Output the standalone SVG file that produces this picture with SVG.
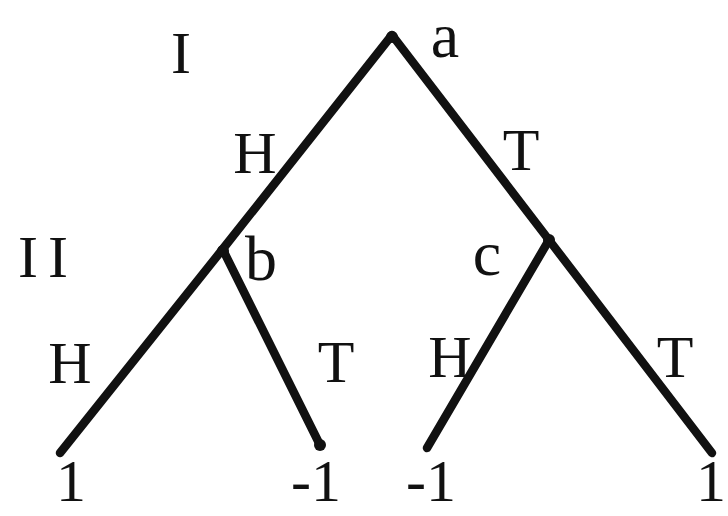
<svg xmlns="http://www.w3.org/2000/svg" width="728" height="516" viewBox="0 0 728 516">
  <style>
    .edge { stroke: #111; stroke-width: 8.5; stroke-linecap: round; stroke-linejoin: round; fill: none; }
    .dot { fill: #111; }
    text { font-family: "Liberation Serif", "Times New Roman", serif; font-size: 60px; fill: #111; text-anchor: middle; }
    .lc { font-size: 64px; }
  </style>
  <rect width="728" height="516" fill="#ffffff"/>
  <g id="connectors">
    <polyline class="edge" points="222,250 392,35 549,240"/>
    <line class="edge" x1="222" y1="250" x2="60" y2="453"/>
    <line class="edge" x1="224" y1="252" x2="320" y2="445"/>
    <line class="edge" x1="549" y1="240" x2="427" y2="448"/>
    <line class="edge" x1="549" y1="240" x2="712" y2="453"/>
    <text x="255" y="173">H</text>
    <text x="521" y="170">T</text>
    <text x="70" y="383">H</text>
    <text x="336" y="382">T</text>
    <text x="450" y="377">H</text>
    <text x="675" y="377">T</text>
  </g>
  <g id="player-I"><text x="181" y="73">I</text></g>
  <g id="player-II"><text x="48" y="277" letter-spacing="10">II</text></g>
  <g id="node-a">
    <circle class="dot" cx="392" cy="37" r="6"/>
    <text class="lc" x="445" y="57">a</text>
  </g>
  <g id="node-b">
    <circle class="dot" cx="223" cy="251" r="6"/>
    <text class="lc" x="261" y="280">b</text>
  </g>
  <g id="node-c">
    <circle class="dot" cx="549" cy="240" r="6"/>
    <text class="lc" x="487" y="275">c</text>
  </g>
  <g id="leaf-1"><text x="71" y="501">1</text></g>
  <g id="leaf-2">
    <circle class="dot" cx="320" cy="445" r="6"/>
    <text x="316" y="501">-1</text>
  </g>
  <g id="leaf-3"><text x="431" y="501">-1</text></g>
  <g id="leaf-4"><text x="711" y="501">1</text></g>
</svg>
